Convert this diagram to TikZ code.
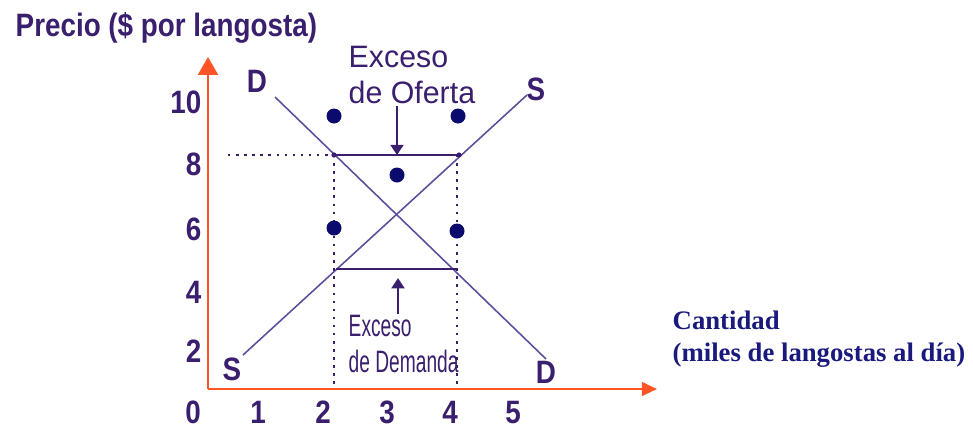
\documentclass[tikz,border=0pt]{standalone}
\usepackage{fontspec}
\setmainfont{Liberation Sans}
\newfontfamily\narrowfont[FakeStretch=0.86]{Liberation Sans}
\newfontfamily\ofertafont[FakeStretch=0.98]{Liberation Sans}
\newfontfamily\demandafont[FakeStretch=0.62]{Liberation Sans}
\newfontfamily\qtyfont{Liberation Serif}
\usetikzlibrary{arrows.meta}
\definecolor{ink}{HTML}{3A1F6E}
\definecolor{curve}{HTML}{5E4E9E}
\definecolor{axisred}{HTML}{FF5526}
\definecolor{dotblue}{HTML}{0B0B6E}
\definecolor{qtyblue}{HTML}{1A1A7E}
\tikzset{>={Triangle[width=3.7pt,length=2.9pt]}}

\begin{document}
\begin{tikzpicture}[x=0.01cm, y=-0.01cm,
    lab/.style={inner sep=0pt, text=ink, font=\narrowfont\bfseries\fontsize{9.2}{10}\selectfont},
    curveline/.style={draw=curve, line width=0.45pt},
    gapline/.style={draw=ink, line width=0.6pt},
    guide/.style={draw=ink, line width=0.75pt, dash pattern=on 0.7pt off 1.6pt},
    bigdot/.style={fill=dotblue},
    enddot/.style={fill=ink}]
    \useasboundingbox (0,0) rectangle (973,427);
    % axes
    \coordinate (O) at (208,389);
    \coordinate (ytip) at (208,57);
    \coordinate (xtip) at (657,389);
    \draw[axisred, line width=0.6pt, -{Triangle[width=5.7pt,length=5.1pt]}] (O) -- (ytip);
    \draw[axisred, line width=0.6pt, -{Triangle[width=3.9pt,length=4.3pt]}] (O) -- (xtip);
    \node[lab, anchor=base west] (title) at (15,36) {Precio (\$ por langosta)};
    \foreach \lab/\yb in {10/113, 8/175, 6/240, 4/303, 2/362}
        \node[lab, anchor=base east] (y\lab) at (202,\yb) {\lab};
    \foreach \lab/\xc in {0/193, 1/258, 2/323, 3/387, 4/450, 5/513}
        \node[lab, anchor=base] (x\lab) at (\xc,423) {\lab};
    \node[inner sep=0pt, anchor=north west, align=left, text=qtyblue,
          font=\qtyfont\bfseries\fontsize{7.6}{9.1}\selectfont] (qty) at (672,310)
          {Cantidad\\(miles de langostas al d\'ia)};
    % supply and demand
    \coordinate (Dtop) at (275,97);
    \coordinate (Dbot) at (546,359);
    \coordinate (Sbot) at (243,355);
    \coordinate (Stop) at (527,95);
    \draw[curveline] (Dtop) -- (Dbot);
    \draw[curveline] (Sbot) -- (Stop);
    \node[lab, anchor=base] (D1) at (257,92) {D};
    \node[lab, anchor=base] (S1) at (536,100) {S};
    \node[lab, anchor=base] (S2) at (232,380) {S};
    \node[lab, anchor=base] (D2) at (546,383) {D};
    % excess supply at 8, excess demand at 4
    \coordinate (ofL) at (334,155);
    \coordinate (ofR) at (459,155);
    \coordinate (ofM) at (397,155);
    \coordinate (deL) at (336,269);
    \coordinate (deR) at (457,269);
    \coordinate (deM) at (398,269);
    \coordinate (hstart) at (228,155);
    \draw[guide] (hstart) -- (ofL);
    \draw[guide] (ofL) -- (ofL |- O);
    \draw[guide] (ofR) ++(-2,0) -- (deR |- O);
    \draw[gapline] (ofL) -- (ofR);
    \draw[gapline] (deL) -- (deR);
    \fill[enddot] (ofL) circle[radius=2.6];
    \fill[enddot] (ofR) circle[radius=2.6];
    \node[inner sep=0pt, anchor=north west, align=left, text=ink,
          font=\ofertafont\fontsize{8.8}{10}\selectfont] (oferta) at (348,46)
          {Exceso\\de Oferta};
    \node[inner sep=0pt, anchor=north west, align=left, text=ink,
          font=\demandafont\fontsize{8.8}{10.5}\selectfont] (demanda) at (348,314)
          {Exceso\\de Demanda};
    \draw[ink, line width=0.6pt, ->] (oferta.south -| ofM) ++(0,2) -- (ofM);
    \draw[ink, line width=0.6pt, ->, shorten >=2.6pt] (demanda.north -| deM) -- (deM);
    % prices
    \foreach \px/\py in {334/116, 458/116, 397/175, 334/228, 457/231}
        \fill[bigdot] (\px,\py) circle[radius=7.5];
\end{tikzpicture}
\end{document}
